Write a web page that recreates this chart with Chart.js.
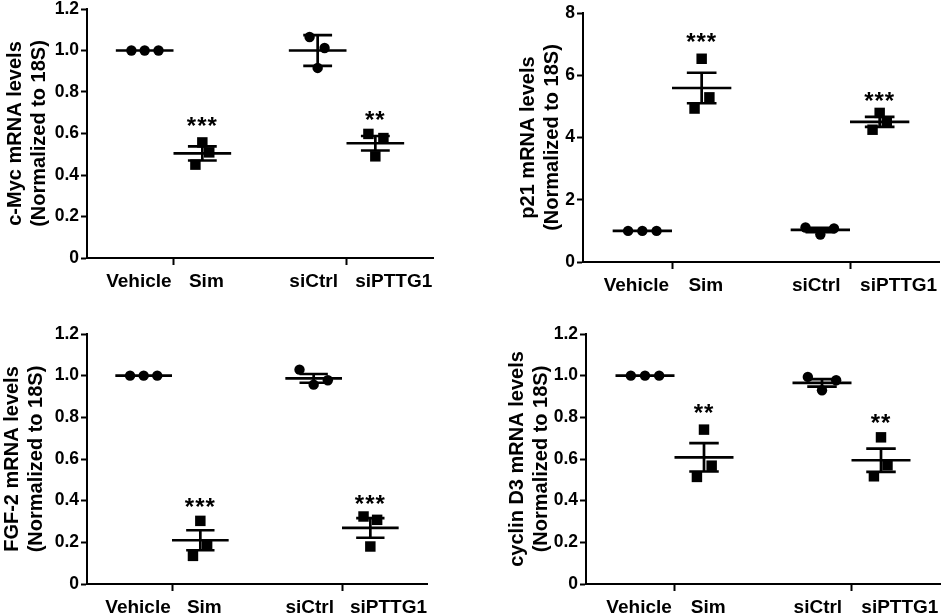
<!DOCTYPE html>
<html>
<head>
<meta charset="utf-8">
<script src="https://cdn.jsdelivr.net/npm/chart.js@4.4.1/dist/chart.umd.min.js"></script>
<style>
  html, body { margin: 0; padding: 0; background: #fff; width: 942px; height: 615px; overflow: hidden; }
  canvas { position: absolute; }
</style>
</head>
<body>
<canvas id="c1"></canvas>
<canvas id="c2"></canvas>
<canvas id="c3"></canvas>
<canvas id="c4"></canvas>
<script>
// ---------- DATA ----------
const categories = ['Vehicle', 'Sim', 'siCtrl', 'siPTTG1'];
const groupX = [1, 2, 4, 5];
const labelX = [0.9, 2.07, 3.93, 5.32];
const tickMarkX = [1.5, 4.5];
const pointShapes = ['circle', 'rect', 'circle', 'rect'];

// c-Myc
const cmycTitle = ['c-Myc mRNA levels', '(Normalized to 18S)'];
const cmycValues = [[1.0, 1.0, 1.0], [0.45, 0.557, 0.509], [1.065, 0.916, 1.012], [0.598, 0.49, 0.578]];
const cmycJitter = [[-0.23, 0, 0.24], [-0.12, 0, 0.12], [-0.14, 0, 0.12], [-0.12, 0, 0.14]];
const cmycMean = [1.0, 0.504, 1.0, 0.553];
const cmycSem = [0, 0.034, 0.074, 0.035];
const cmycStars = ['', '***', '', '**'];
const cmycStarY = [null, 0.66, null, 0.69];
const cmycTicks = [0, 0.2, 0.4, 0.6, 0.8, 1.0, 1.2];

// p21
const p21Title = ['p21 mRNA levels', '(Normalized to 18S)'];
const p21Values = [[1.0, 1.0, 1.0], [4.93, 6.53, 5.29], [1.11, 0.88, 1.08], [4.25, 4.79, 4.49]];
const p21Jitter = [[-0.24, 0, 0.24], [-0.12, 0, 0.13], [-0.25, 0, 0.23], [-0.12, 0, 0.12]];
const p21Mean = [1.0, 5.59, 1.03, 4.5];
const p21Sem = [0, 0.49, 0.07, 0.16];
const p21Stars = ['', '***', '', '***'];
const p21StarY = [null, 7.23, null, 5.35];
const p21Ticks = [0, 2, 4, 6, 8];

// FGF-2
const fgfTitle = ['FGF-2 mRNA levels', '(Normalized to 18S)'];
const fgfValues = [[1.0, 1.0, 1.0], [0.135, 0.303, 0.19], [1.029, 0.957, 0.978], [0.324, 0.18, 0.308]];
const fgfJitter = [[-0.24, 0, 0.24], [-0.13, 0, 0.12], [-0.25, 0, 0.25], [-0.12, 0, 0.12]];
const fgfMean = [1.0, 0.21, 0.987, 0.269];
const fgfSem = [0, 0.048, 0.021, 0.047];
const fgfStars = ['', '***', '', '***'];
const fgfStarY = [null, 0.396, null, 0.41];
const fgfTicks = [0, 0.2, 0.4, 0.6, 0.8, 1.0, 1.2];

// cyclin D3
const cycTitle = ['cyclin D3 mRNA levels', '(Normalized to 18S)'];
const cycValues = [[1.0, 1.0, 1.0], [0.514, 0.741, 0.568], [0.994, 0.93, 0.978], [0.517, 0.704, 0.57]];
const cycJitter = [[-0.24, 0, 0.24], [-0.12, 0, 0.13], [-0.24, 0, 0.24], [-0.12, 0, 0.11]];
const cycMean = [1.0, 0.608, 0.965, 0.594];
const cycSem = [0, 0.068, 0.018, 0.056];
const cycStars = ['', '**', '', '**'];
const cycStarY = [null, 0.845, null, 0.797];
const cycTicks = [0, 0.2, 0.4, 0.6, 0.8, 1.0, 1.2];

// ---------- LAYOUT ----------
const FONT = "'Liberation Sans', Arial, Helvetica, sans-serif";
const PAD_TOP = 20, PAD_RIGHT = 10, X_H = 40;
const panels = [
  { id: 'c1', L: 87,  R: 433, T: 9,   B: 258, axisW: 87, title: cmycTitle, values: cmycValues, jitter: cmycJitter, mean: cmycMean, sem: cmycSem, stars: cmycStars, starY: cmycStarY, ticks: cmycTicks },
  { id: 'c2', L: 583, R: 939, T: 13,  B: 262, axisW: 70, title: p21Title,  values: p21Values,  jitter: p21Jitter,  mean: p21Mean,  sem: p21Sem,  stars: p21Stars,  starY: p21StarY,  ticks: p21Ticks },
  { id: 'c3', L: 87,  R: 427, T: 334, B: 584, axisW: 90, title: fgfTitle,  values: fgfValues,  jitter: fgfJitter,  mean: fgfMean,  sem: fgfSem,  stars: fgfStars,  starY: fgfStarY,  ticks: fgfTicks },
  { id: 'c4', L: 586, R: 940, T: 334, B: 584, axisW: 84, title: cycTitle,  values: cycValues,  jitter: cycJitter,  mean: cycMean,  sem: cycSem,  stars: cycStars,  starY: cycStarY,  ticks: cycTicks }
];

const STAR_SIZE = 24;
const starPlugin = {
  id: 'stars',
  afterDatasetsDraw(chart, args, opts) {
    const { ctx, scales: { x, y } } = chart;
    ctx.save();
    ctx.fillStyle = '#000';
    ctx.font = 'bold ' + STAR_SIZE + 'px ' + FONT;
    try { ctx.letterSpacing = '1px'; } catch (e) {}
    ctx.textAlign = 'center';
    ctx.textBaseline = 'alphabetic';
    opts.stars.forEach((s, i) => {
      if (!s) return;
      const px = x.getPixelForValue(groupX[i]);
      const py = y.getPixelForValue(opts.starY[i]);
      ctx.fillText(s, px, py + 0.56 * STAR_SIZE);
    });
    ctx.restore();
  }
};

function buildChart(p) {
  const canvas = document.getElementById(p.id);
  const w = p.axisW + (p.R - p.L) + PAD_RIGHT;
  const h = PAD_TOP + (p.B - p.T) + X_H;
  canvas.width = w; canvas.height = h;
  canvas.style.width = w + 'px'; canvas.style.height = h + 'px';
  canvas.style.left = (p.L - p.axisW) + 'px';
  canvas.style.top = (p.T - PAD_TOP) + 'px';

  const pts = [], styles = [], radii = [];
  p.values.forEach((vals, g) => {
    vals.forEach((v, k) => {
      pts.push({ x: groupX[g] + p.jitter[g][k], y: v });
      styles.push(pointShapes[g]);
      radii.push(pointShapes[g] === 'rect' ? 7.4 : 5.2);
    });
  });
  const meanPts = [];
  p.mean.forEach((m, g) => {
    meanPts.push({ x: groupX[g] - 0.5, y: m }, { x: groupX[g] + 0.5, y: m }, { x: groupX[g] + 0.5, y: null });
  });
  const errPts = [];
  p.mean.forEach((m, g) => {
    const s = p.sem[g];
    if (!s) return;
    const cx = groupX[g];
    errPts.push({ x: cx - 0.25, y: m + s }, { x: cx + 0.25, y: m + s }, { x: cx, y: null });
    errPts.push({ x: cx, y: m + s }, { x: cx, y: m - s }, { x: cx, y: null });
    errPts.push({ x: cx - 0.25, y: m - s }, { x: cx + 0.25, y: m - s }, { x: cx, y: null });
  });
  const yMax = p.ticks[p.ticks.length - 1];
  const integerTicks = yMax > 2;

  new Chart(canvas, {
    type: 'scatter',
    data: {
      datasets: [
        { data: pts, pointStyle: styles, pointRadius: radii, pointHoverRadius: radii,
          backgroundColor: '#000', borderColor: '#000', borderWidth: 0, showLine: false, order: 0 },
        { data: meanPts, showLine: true, spanGaps: false, pointRadius: 0, borderColor: '#000',
          borderWidth: 2.7, borderCapStyle: 'butt', order: 1 },
        { data: errPts, showLine: true, spanGaps: false, pointRadius: 0, borderColor: '#000',
          borderWidth: 2.7, borderCapStyle: 'butt', order: 1 }
      ]
    },
    options: {
      responsive: false,
      animation: false,
      devicePixelRatio: window.devicePixelRatio || 1,
      layout: { padding: { top: PAD_TOP, right: PAD_RIGHT, bottom: 0, left: 0 } },
      plugins: { legend: { display: false }, tooltip: { enabled: false }, stars: { stars: p.stars, starY: p.starY } },
      scales: {
        x: {
          type: 'linear', min: 0, max: 6,
          afterFit: s => { s.height = X_H; },
          afterBuildTicks: s => {
            s.ticks = labelX.concat(tickMarkX).sort((a, b) => a - b).map(v => ({ value: v }));
          },
          ticks: {
            autoSkip: false, maxRotation: 0, minRotation: 0, padding: 5, color: '#000',
            font: { family: FONT, size: 19, weight: 'bold' },
            callback: v => { const i = labelX.indexOf(v); return i >= 0 ? categories[i] : ''; }
          },
          grid: {
            drawOnChartArea: false, drawTicks: true, tickLength: 7, tickWidth: 2,
            tickColor: c => (c.tick && tickMarkX.indexOf(c.tick.value) >= 0) ? '#000' : 'rgba(0,0,0,0)'
          },
          border: { display: true, color: '#000', width: 2 }
        },
        y: {
          type: 'linear', min: 0, max: yMax,
          afterFit: s => { s.width = p.axisW; },
          afterBuildTicks: s => { s.ticks = p.ticks.map(v => ({ value: v })); },
          ticks: {
            padding: 2, color: '#000',
            font: { family: FONT, size: 17.5, weight: 'bold' },
            callback: v => v === 0 ? '0' : (integerTicks ? String(Math.round(v)) : v.toFixed(1))
          },
          grid: { drawOnChartArea: false, drawTicks: true, tickLength: 6, tickWidth: 2, tickColor: '#000' },
          border: { display: true, color: '#000', width: 2 },
          title: {
            display: true, text: p.title, color: '#000',
            font: { family: FONT, size: 20, weight: 'bold', lineHeight: 1.2 },
            padding: { top: 3, bottom: 0 }
          }
        }
      }
    },
    plugins: [starPlugin]
  });
}

panels.forEach(buildChart);
</script>
</body>
</html>
